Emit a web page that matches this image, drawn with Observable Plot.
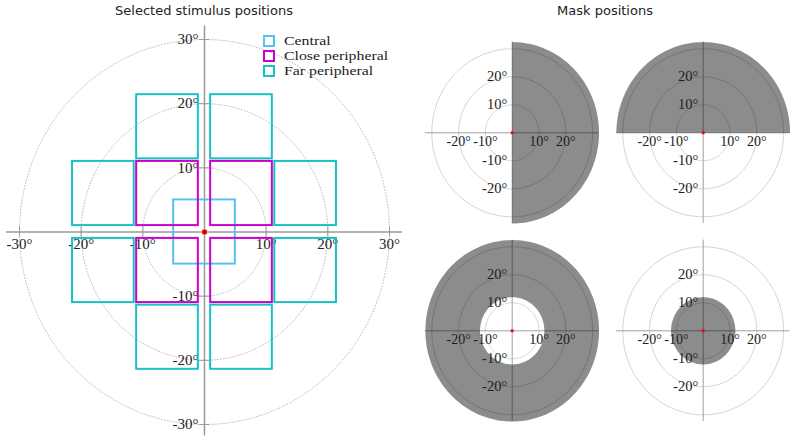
<!DOCTYPE html>
<html>
<head>
<meta charset="utf-8">
<script src="https://cdn.jsdelivr.net/npm/d3@7"></script>
<script src="https://cdn.jsdelivr.net/npm/@observablehq/plot@0.6"></script>
<style>
  html, body { margin: 0; padding: 0; background: #fff; }
  #wrap { position: relative; width: 790px; height: 438px; overflow: hidden; }
  #wrap svg { position: absolute; overflow: visible; }
  .title { position: absolute; font-family: "DejaVu Sans", sans-serif; font-size: 13px; line-height: 16px; color: #222; white-space: nowrap; transform: translateX(-50%); }
  .leg { position: absolute; display: flex; align-items: center; height: 14px; white-space: nowrap; }
  .leg span.box { display: inline-block; width: 8px; height: 8px; border: 2px solid; margin-right: 9px; }
  .leg span.lab { display: inline-block; font-family: "Liberation Serif", serif; font-size: 13.2px; line-height: 14px; color: #222; transform: scaleX(1.2); transform-origin: 0 50%; }
</style>
</head>
<body>
<div id="wrap"></div>
<script>
// ---------- data ----------
const mainXTicks = [-30, -20, -10, 10, 20, 30];
const mainYTicks = [30, 20, 10, -10, -20, -30];
const ringRadii = [10, 20, 30];

const categories = ["Central", "Close peripheral", "Far peripheral"];
const categoryColors = ["#55c3f0", "#cc00cc", "#18c2c2"];

// stimulus squares (degrees)
const sqCat = ["Central",
  "Close peripheral", "Close peripheral", "Close peripheral", "Close peripheral",
  "Far peripheral", "Far peripheral", "Far peripheral", "Far peripheral",
  "Far peripheral", "Far peripheral", "Far peripheral", "Far peripheral"];
const sqX1 = [-5,   1, -11, -11,   1,    1, -11,     1,   -11,  11.4,  11.4, -21.4, -21.4];
const sqX2 = [ 5,  11,  -1,  -1,  11,   11,  -1,    11,    -1,  21.4,  21.4, -11.4, -11.4];
const sqY1 = [-5,   1,   1, -11, -11, 11.4, 11.4, -21.4, -21.4,     1,   -11,     1,   -11];
const sqY2 = [ 5,  11,  11,  -1,  -1, 21.4, 21.4, -11.4, -11.4,    11,    -1,    11,    -1];

// masks (degrees): angular span and radii
const maskStart = [-90, 0, 0, 0];
const maskEnd   = [90, 180, 360, 360];
const maskInner = [0, 0, 12, 0];
const maskOuter = [32.4, 32.4, 32.4, 12];

const smallXTicks = [-20, -10, 10, 20];
const smallYTicks = [20, 10, -10, -20];

// ---------- helpers ----------
const rad = Math.PI / 180;
const arc = (r, a0, a1, step = 2) => {
  const n = Math.max(2, Math.ceil(Math.abs(a1 - a0) / step));
  return d3.range(n + 1).map(i => {
    const a = (a0 + (a1 - a0) * i / n) * rad;
    return {x: r * Math.cos(a), y: r * Math.sin(a)};
  });
};
const ringPts = ringRadii.flatMap(r => arc(r, 0, 360).map(p => ({...p, r})));

const squares = sqCat.map((c, i) => ({cat: c, x1: sqX1[i], x2: sqX2[i], y1: sqY1[i], y2: sqY2[i]}));
const color = {domain: categories, range: categoryColors};

const wrap = document.getElementById("wrap");
const place = (el, left, top) => { el.style.left = left + "px"; el.style.top = top + "px"; wrap.appendChild(el); };

// ---------- main panel ----------
const ext = 32.1;
const main = Plot.plot({
  width: 410, height: 438,
  marginLeft: 19, marginRight: 21, marginTop: 39, marginBottom: 14,
  x: {domain: [-30, 30], axis: null},
  y: {domain: [-30, 30], axis: null},
  color,
  style: {fontFamily: "Liberation Serif, serif", background: "transparent", overflow: "visible"},
  marks: [
    Plot.line(ringPts, {x: "x", y: "y", z: "r", stroke: "#c0c0c0", strokeWidth: 1, strokeDasharray: "1,2"}),
    Plot.ruleY([{y: 0, x1: -ext, x2: ext}], {y: "y", x1: "x1", x2: "x2", stroke: "#9a9a9a", strokeWidth: 1.5}),
    Plot.ruleX([{x: 0, y1: -ext + 0.3, y2: ext}], {x: "x", y1: "y1", y2: "y2", stroke: "#9a9a9a", strokeWidth: 1.5}),
    Plot.ruleX(mainXTicks, {x: d => d, y1: () => 0, y2: () => 0, insetTop: -5, insetBottom: -5, stroke: "#9a9a9a", strokeWidth: 1}),
    Plot.ruleY(mainYTicks, {y: d => d, x1: () => 0, x2: () => 0, insetLeft: -5, insetRight: -5, stroke: "#9a9a9a", strokeWidth: 1}),
    Plot.text(mainXTicks, {x: d => d, y: () => 0, text: d => d + "°", dy: 12, fontSize: 15, fill: "#222", textAnchor: "middle"}),
    Plot.text(mainYTicks, {x: () => 0, y: d => d, text: d => d + "°", dx: -6, fontSize: 15, fill: "#222", textAnchor: "end"}),
    Plot.rect(squares, {x1: "x1", x2: "x2", y1: "y1", y2: "y2", stroke: "cat", fill: "none", strokeWidth: 2}),
    Plot.dot([{x: 0, y: 0}], {x: "x", y: "y", symbol: "square", r: 2.6, fill: "#e00000", stroke: "none"})
  ]
});
place(main, 0, 0);

// ---------- small mask panels ----------
const smallW = 182, smallH = 196;
const offsets = [[417, 37], [607.6, 37], [417, 234.7], [607.6, 234.7]];
maskStart.forEach((s, i) => {
  const e = maskEnd[i], rin = maskInner[i], rout = maskOuter[i];
  let poly = arc(rout, s, e);
  if (rin > 0) poly = poly.concat(arc(rin, e, s));
  else if (e - s < 360) poly.push({x: 0, y: 0});
  const sext = 32.4;
  const p = Plot.plot({
    width: smallW, height: smallH,
    marginLeft: 14.3, marginRight: 6.9, marginTop: 11.3, marginBottom: 16.7,
    x: {domain: [-30, 30], axis: null},
    y: {domain: [-30, 30], axis: null},
    style: {fontFamily: "Liberation Serif, serif", background: "transparent", overflow: "visible"},
    marks: [
      Plot.line(ringPts, {x: "x", y: "y", z: "r", stroke: "#d4d4d4", strokeWidth: 1}),
      Plot.ruleY([{y: 0, x1: -sext, x2: sext}], {y: "y", x1: "x1", x2: "x2", stroke: "#a0a0a0", strokeWidth: 1}),
      Plot.ruleX([{x: 0, y1: -sext, y2: sext}], {x: "x", y1: "y1", y2: "y2", stroke: "#a0a0a0", strokeWidth: 1}),
      Plot.line(poly, {x: "x", y: "y", fill: "black", fillOpacity: 0.45, stroke: "none"}),
      Plot.text(smallXTicks, {x: d => d, y: () => 0, text: d => d + "°", dy: 8.5, fontSize: 14, fill: "#222", textAnchor: "middle"}),
      Plot.text(smallYTicks, {x: () => 0, y: d => d, text: d => d + "°", dx: -5, fontSize: 14.5, fill: "#222", textAnchor: "end"}),
      Plot.dot([{x: 0, y: 0}], {x: "x", y: "y", symbol: "square", r: 1.6, fill: "#ff0000", stroke: "none"})
    ]
  });
  place(p, offsets[i][0], offsets[i][1]);
});

// ---------- titles ----------
const t1 = document.createElement("div");
t1.className = "title"; t1.textContent = "Selected stimulus positions";
place(t1, 204, 3);
const t2 = document.createElement("div");
t2.className = "title"; t2.textContent = "Mask positions";
place(t2, 605, 3);

// ---------- legend ----------
const legCenters = [41, 55.7, 70.5];
categories.forEach((c, i) => {
  const row = document.createElement("div");
  row.className = "leg";
  const box = document.createElement("span");
  box.className = "box";
  box.style.borderColor = categoryColors[i];
  const lab = document.createElement("span");
  lab.className = "lab";
  lab.textContent = c;
  row.appendChild(box);
  row.appendChild(lab);
  place(row, 263, legCenters[i] - 7);
});
</script>
</body>
</html>
